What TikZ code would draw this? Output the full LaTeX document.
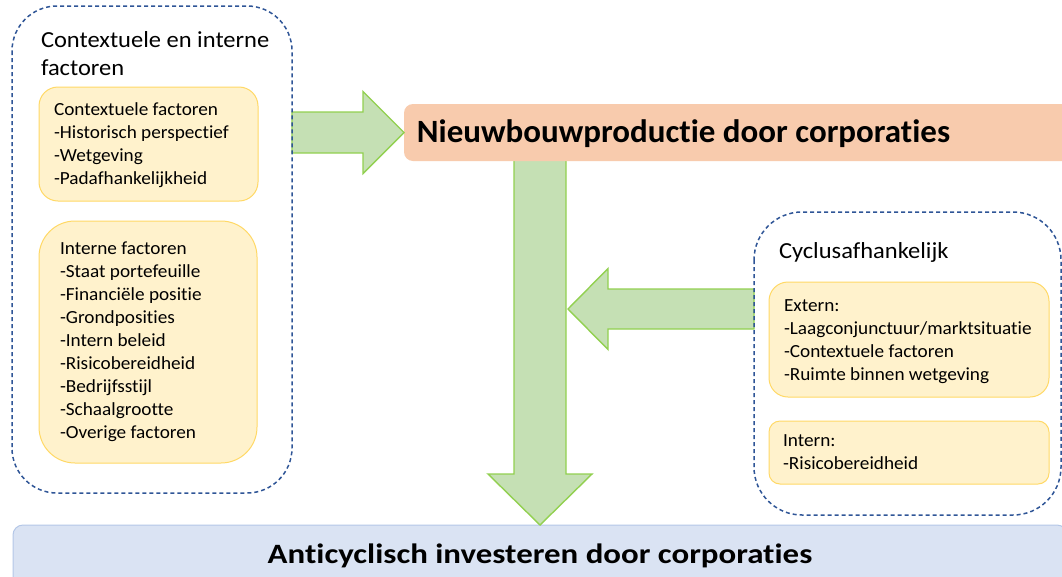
\documentclass[tikz,border=0pt]{standalone}
\usepackage{fontspec}
\setmainfont{Carlito}[Ligatures=NoCommon]
\usetikzlibrary{calc}
\definecolor{dashblue}{HTML}{2F5597}
\definecolor{yfill}{HTML}{FFF2CC}
\definecolor{ydraw}{HTML}{FFD966}
\definecolor{gfill}{HTML}{C5E0B4}
\definecolor{gdraw}{HTML}{92D050}
\definecolor{ofill}{HTML}{F8CBAD}
\definecolor{bfill}{HTML}{DAE3F3}
\definecolor{bdraw}{HTML}{B4C7E7}
\newcommand\myl[1]{\hbox{#1}}
\newcommand\wide[2]{\scalebox{#1}[1]{#2}}
% #1 start, #2 tip, #3 shaft half width, #4 head half width, #5 head length, #6 name
\newcommand\blockarrow[6]{%
  \coordinate (#6n) at ($(#2)!#5!(#1)$);
  \filldraw[garrow] ($(#1)!#3!90:(#2)$) -- ($(#6n)!#3!90:(#2)$) -- ($(#6n)!#4!90:(#2)$)
    -- (#2) -- ($(#6n)!#4!-90:(#2)$) -- ($(#6n)!#3!-90:(#2)$) -- ($(#1)!#3!-90:(#2)$) -- cycle;
}
\begin{document}
\begin{tikzpicture}[x=1pt,y=-1pt,
  shape box/.style={rectangle, inner sep=0pt, outer sep=0pt},
  dashbox/.style={shape box, draw=dashblue, line width=1.5pt, dash pattern=on 4pt off 3pt},
  ybox/.style={shape box, fill=yfill, draw=ydraw, line width=1pt},
  garrow/.style={fill=gfill, draw=gdraw, line width=1.4pt, line join=miter},
  txt/.style={inner sep=0pt, outer sep=0pt, anchor=base west, font=\fontsize{18.5}{23}\selectfont},
  ttl/.style={inner sep=0pt, outer sep=0pt, anchor=base west, font=\fontsize{23}{28}\selectfont}]
\clip (0,0) rectangle (1062,576);
\fill[white] (0,0) rectangle (1062,576);

% main boxes
\node[shape box, fill=bfill, draw=bdraw, line width=1pt, rounded corners=10pt,
  minimum width=1054pt, minimum height=75pt] (anti) at (540,562.5) {};
\node[shape box, minimum width=280pt, minimum height=487pt] (lbox) at (152,249.5) {};
\node[shape box, minimum width=307pt, minimum height=303pt] (rbox) at (907.5,363.5) {};

% arrows (drawn below the boxes)
\coordinate (a2s) at (540,160);
\blockarrow{a2s}{anti.north}{26pt}{52pt}{51pt}{a2}
\coordinate (a3t) at (568,309);
\coordinate (a3s) at (rbox.west |- a3t);
\blockarrow{a3s}{a3t}{20pt}{40.5pt}{40pt}{a3}

\node[shape box, fill=ofill, rounded corners=9pt,
  minimum width=696pt, minimum height=57pt] (orange) at (752,132.5) {};
\coordinate (a1s) at (lbox.east |- orange.west);
\blockarrow{a1s}{orange.west}{20.5pt}{41pt}{41pt}{a1}

% dashed containers
\draw[dashbox, rounded corners=45pt] (lbox.north west) rectangle (lbox.south east);
\draw[dashbox, rounded corners=48pt] (rbox.north west) rectangle (rbox.south east);

% yellow boxes
\node[ybox, rounded corners=19pt, minimum width=219pt, minimum height=114pt] (cf) at (148.5,144) {};
\node[ybox, rounded corners=36pt, minimum width=218pt, minimum height=242pt] (if) at (148,342) {};
\node[ybox, rounded corners=19pt, minimum width=280pt, minimum height=115pt] (ext) at (909,339.5) {};
\node[ybox, rounded corners=11pt, minimum width=280pt, minimum height=63pt] (int) at (909,452.5) {};

% texts
\node[ttl] (t1) at (41,47) {\wide{1.065}{\vtop{\myl{Contextuele en interne}\myl{factoren}}}};
\node[txt] (t2) at (54,115) {\wide{1.04}{\vtop{\myl{Contextuele factoren}\myl{-Historisch perspectief}\myl{-Wetgeving}\myl{-Padafhankelijkheid}}}};
\node[txt] (t3) at (60,254.3) {\wide{1.04}{\vtop{\myl{Interne factoren}\myl{-Staat portefeuille}\myl{-Financiële positie}\myl{-Grondposities}\myl{-Intern beleid}\myl{-Risicobereidheid}\myl{-Bedrijfsstijl}\myl{-Schaalgrootte}\myl{-Overige factoren}}}};
\node[ttl] (t4) at (779,258.3) {\wide{1.065}{Cyclusafhankelijk}};
\node[txt] (t5) at (784,311.7) {\wide{1.04}{\vtop{\myl{Extern:}\myl{-Laagconjunctuur/marktsituatie}\myl{-Contextuele factoren}\myl{-Ruimte binnen wetgeving}}}};
\node[txt] (t6) at (783,446.7) {\wide{1.04}{\vtop{\myl{Intern:}\myl{-Risicobereidheid}}}};
\node[inner sep=0pt, anchor=base west, font=\fontsize{32.5}{38}\selectfont\bfseries] (t7) at (416.7,142.7) {\wide{1.015}{Nieuwbouwproductie door corporaties}};
\node[inner sep=0pt, anchor=base, font=\fontsize{28}{34}\selectfont\bfseries] (t8) at (540,563.3) {\wide{1.175}{Anticyclisch investeren door corporaties}};
\end{tikzpicture}
\end{document}
